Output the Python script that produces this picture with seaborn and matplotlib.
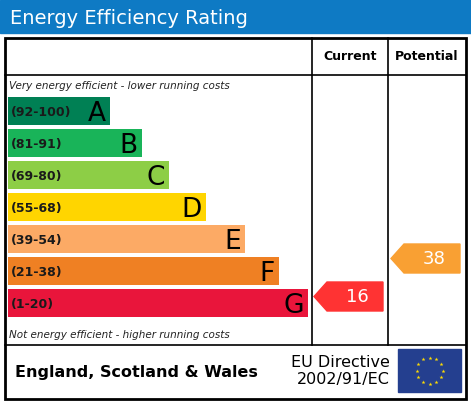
import matplotlib
matplotlib.use("Agg")
import matplotlib.pyplot as plt
import seaborn as sns
import pandas as pd
import numpy as np
from matplotlib.patches import Rectangle, Polygon

bands = ["A", "B", "C", "D", "E", "F", "G"]
ranges = ["(92-100)", "(81-91)", "(69-80)", "(55-68)", "(39-54)", "(21-38)", "(1-20)"]
widths = [102, 134, 161, 198, 237, 271, 300]
colors = ["#008054", "#19b459", "#8dce46", "#ffd500", "#fcaa65", "#ef8023", "#e9153b"]
current = 16
potential = 38

W, H = 471, 404
fig = plt.figure(figsize=(W/100, H/100), dpi=100)
bg = fig.add_axes([0, 0, 1, 1])
bg.set_xlim(0, W); bg.set_ylim(H, 0); bg.axis("off")

# title
bg.add_patch(Rectangle((0, 0), W, 33, color="#0e7ac4"))
bg.text(10, 18, "Energy Efficiency Rating", color="white", fontsize=14, va="center")
# frame
bg.add_patch(Rectangle((5, 38), 461, 361, fill=False, lw=2, ec="black"))
bg.plot([5, 466], [75, 75], color="black", lw=1.2)
bg.plot([5, 466], [345, 345], color="black", lw=1.2)
bg.plot([312, 312], [38, 345], color="black", lw=1.2)
bg.plot([388, 388], [38, 345], color="black", lw=1.2)
bg.text(350, 57, "Current", ha="center", va="center", fontsize=9, fontweight="bold")
bg.text(427, 57, "Potential", ha="center", va="center", fontsize=9, fontweight="bold")
bg.text(9, 86, "Very energy efficient - lower running costs", fontsize=7.5, style="italic", va="center", color="#222")
bg.text(9, 335, "Not energy efficient - higher running costs", fontsize=7.5, style="italic", va="center", color="#222")

# footer
bg.text(15, 373, "England, Scotland & Wales", fontsize=11.5, fontweight="bold", va="center")
bg.text(390, 371, "EU Directive\n2002/91/EC", fontsize=11.5, ha="right", va="center", linespacing=1.2)
bg.add_patch(Rectangle((398, 349), 63, 43, color="#243f8f"))
ang = np.linspace(0, 2*np.pi, 13)[:-1]
bg.scatter(429.5 + 13*np.cos(ang), 370.5 + 13*np.sin(ang), marker="*", s=9, color="#ffdd00", zorder=5, linewidths=0)

# arrows
def arrow(x0, x1, yc, h, col, val):
    pts = [(x0, yc), (x0 + 13, yc - h/2), (x1, yc - h/2), (x1, yc + h/2), (x0 + 13, yc + h/2)]
    bg.add_patch(Polygon(pts, color=col))
    bg.text((x0 + 13 + x1)/2 + 2, yc + 1, str(val), color="white", fontsize=13, ha="center", va="center")
arrow(314, 383, 296.5, 29, "#ff3333", current)
arrow(391, 460, 258.5, 29, "#f9a033", potential)

# bands
ax = fig.add_axes([8/W, 1 - 319/H, 302/W, (319 - 95)/H])
df = pd.DataFrame({"band": bands, "width": widths})
sns.barplot(data=df, y="band", x="width", hue="band", palette=colors, orient="h",
            width=0.86, legend=False, ax=ax, saturation=1)
ax.set_xlim(0, 302)
ax.set_ylim(6.5, -0.5)
ax.axis("off")
for i, (b, r, w) in enumerate(zip(bands, ranges, widths)):
    ax.text(3, i + 0.05, r, fontsize=9, fontweight="bold", va="center", color="#1a1a1a")
    ax.text(w - 4, i + 0.08, b, fontsize=19, ha="right", va="center", color="black")

fig.savefig("out.png", dpi=100)
